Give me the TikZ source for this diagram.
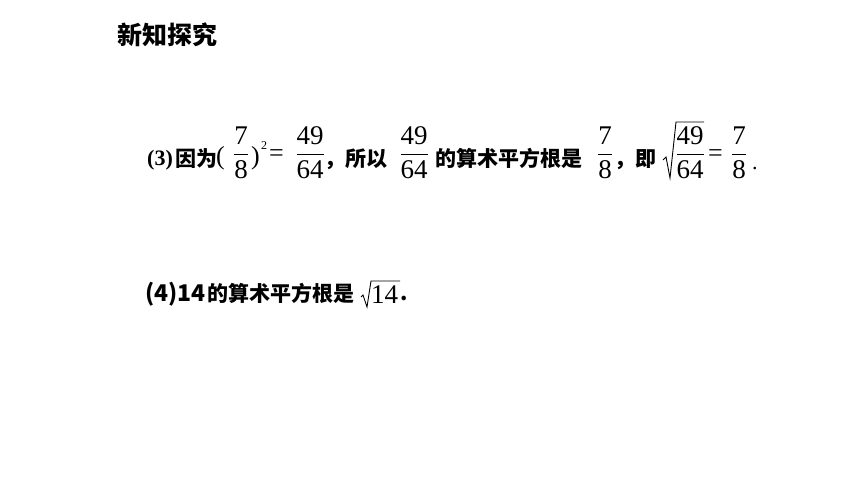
\documentclass[tikz,border=0pt]{standalone}
\usepackage{amsmath}
\usepackage{fontspec}
\newfontfamily\cjk{Noto Sans CJK SC}
\newfontfamily\tnr{Liberation Serif}
\newcommand{\fr}[2]{\dfrac{\text{\tnr #1}}{\text{\tnr #2}}}
\tikzset{
	cn/.style={anchor=base west, inner sep=0pt, font=\cjk\bfseries\fontsize{21}{25}\selectfont},
	tr/.style={anchor=base west, inner sep=0pt, font=\tnr\fontsize{26}{30}\selectfont},
	frc/.style={anchor=base, inner sep=0pt, font=\fontsize{27}{32}\selectfont},
	surd/.style={line width=0.9pt, line join=miter}
}
\begin{document}
\begin{tikzpicture}[x=1pt,y=-1pt]
	\useasboundingbox (0,0) rectangle (860,484);
	\node[cn, anchor=west, font=\cjk\bfseries\fontsize{25}{30}\selectfont] (title) at (117,35) {新知探究};
	
	\node[tr, font=\tnr\bfseries\fontsize{22}{26}\selectfont] (n3) at (147,166) {(3)};
	\node[cn] (yinwei) at (175,167) {因为};
	\node[tr] (lp) at (216,165) {(};
	\node[frc] (fa) at (241,161) {$\fr{7}{8}$};
	\node[tr] (rp) at (251,165) {)};
	\node[tr, font=\tnr\fontsize{12}{14}\selectfont] (sq) at (261,150) {2};
	\node[tr] (eqa) at (269,162) {=};
	\node[frc] (fb) at (310,161) {$\fr{49}{64}$};
	\node[cn] (suoyi) at (324,167) {，所以};
	\node[frc] (fc) at (414,161) {$\fr{49}{64}$};
	\node[cn] (gen) at (435,167) {的算术平方根是};
	\node[frc] (fd) at (605,161) {$\fr{7}{8}$};
	\node[cn] (ji) at (614,167) {，即};
	\node[frc] (fr) at (690,161) {$\fr{49}{64}$};
	\draw[surd] (663,160) -- (666,157) -- (670,178) -- (676,122) -- (704,122);
	\node[tr] (eqb) at (708,162) {=};
	\node[frc] (fe) at (739,161) {$\fr{7}{8}$};
	\node[tr, font=\tnr\fontsize{22}{26}\selectfont] (dot3) at (752,170) {.};
	
	\node[cn, font=\cjk\bfseries\fontsize{23}{27}\selectfont] (n4) at (145,301) {(4)14};
	\node[cn] (gen4) at (207,301) {的算术平方根是};
	\node[tr, font=\tnr\fontsize{27}{32}\selectfont] (f14) at (371,303) {14};
	\draw[surd] (361,297) -- (363,295) -- (367,307) -- (371,281) -- (400,281);
	\node[cn] (dot4) at (400,300) {.};
\end{tikzpicture}
\end{document}
